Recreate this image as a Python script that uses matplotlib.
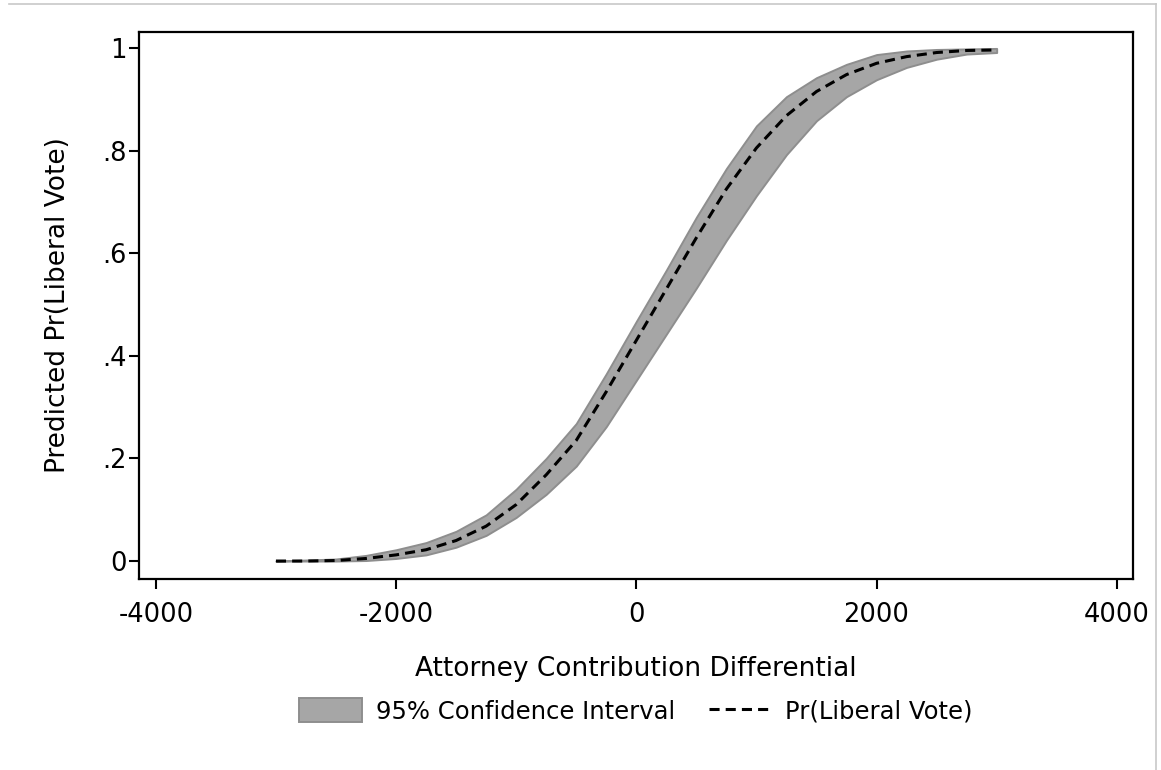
import matplotlib
matplotlib.use("Agg")
import matplotlib.pyplot as plt
from matplotlib.lines import Line2D

# Data
x_vals = [-3000, -2750, -2500, -2250, -2000, -1750, -1500, -1250, -1000, -750,
          -500, -250, 0, 250, 500, 750, 1000, 1250, 1500, 1750,
          2000, 2250, 2500, 2750, 3000]
pr_liberal = [0.000, 0.000, 0.001, 0.005, 0.012, 0.022, 0.040, 0.068, 0.110, 0.168,
              0.235, 0.330, 0.430, 0.530, 0.630, 0.725, 0.805, 0.868, 0.915, 0.948,
              0.970, 0.983, 0.991, 0.995, 0.996]
ci_upper = [0.000, 0.002, 0.004, 0.011, 0.022, 0.036, 0.058, 0.090, 0.140, 0.200,
            0.268, 0.365, 0.467, 0.567, 0.670, 0.765, 0.848, 0.905, 0.942, 0.968,
            0.987, 0.994, 0.997, 0.998, 0.999]
ci_lower = [0.000, 0.000, 0.000, 0.001, 0.005, 0.012, 0.027, 0.050, 0.085, 0.130,
            0.185, 0.262, 0.352, 0.442, 0.532, 0.625, 0.712, 0.792, 0.858, 0.905,
            0.938, 0.962, 0.978, 0.988, 0.991]

x_ticks = [-4000, -2000, 0, 2000, 4000]
x_ticklabels = ["-4000", "-2000", "0", "2000", "4000"]
y_ticks = [0, 0.2, 0.4, 0.6, 0.8, 1.0]
y_ticklabels = ["0", ".2", ".4", ".6", ".8", "1"]

plt.rcParams['font.family'] = ['DejaVu Sans']

W, H = 1161, 770
fig = plt.figure(figsize=(W / 100, H / 100), dpi=100)
fig.patch.set_facecolor("white")
ax = fig.add_axes([139 / W, 1 - 579 / H, (1133 - 139) / W, (579 - 32) / H])

band = ax.fill_between(x_vals, ci_lower, ci_upper, facecolor="#a6a6a6",
                       edgecolor="#8e8e8e", linewidth=1.4,
                       label="95% Confidence Interval")
line, = ax.plot(x_vals, pr_liberal, color="black", linewidth=2.2,
                linestyle=(0, (3.3, 2.0)), label="Pr(Liberal Vote)")

ax.set_xlim(-4140, 4135)
ax.set_ylim(-0.035, 1.031)
ax.set_xticks(x_ticks)
ax.set_xticklabels(x_ticklabels)
ax.set_yticks(y_ticks)
ax.set_yticklabels(y_ticklabels)
ax.tick_params(axis="both", direction="out", length=7.5, width=1.5,
               labelsize=18.5, color="black")
ax.tick_params(axis="x", pad=9)
ax.tick_params(axis="y", pad=1.5)
for sp in ax.spines.values():
    sp.set_linewidth(1.6)
    sp.set_color("black")

ax.set_xlabel("Attorney Contribution Differential", fontsize=19, labelpad=20)
ax.set_ylabel("Predicted Pr(Liberal Vote)", fontsize=19, labelpad=22)

leg = fig.legend(handles=[band, line], loc="center",
                 bbox_to_anchor=(636 / W, 1 - 711 / H), ncol=2, frameon=False,
                 fontsize=17.5, handlelength=2.6, handleheight=1.15,
                 handletextpad=0.55, columnspacing=1.4)

# light grey frame lines at top and right of the image
fig.add_artist(Line2D([9 / W, 1156 / W], [1 - 4 / H, 1 - 4 / H],
                      transform=fig.transFigure, color="#c8c8c8", linewidth=1.2))
fig.add_artist(Line2D([1156 / W, 1156 / W], [1 - 4 / H, 0],
                      transform=fig.transFigure, color="#c8c8c8", linewidth=1.2))

fig.savefig("out.png", dpi=100, facecolor="white")
